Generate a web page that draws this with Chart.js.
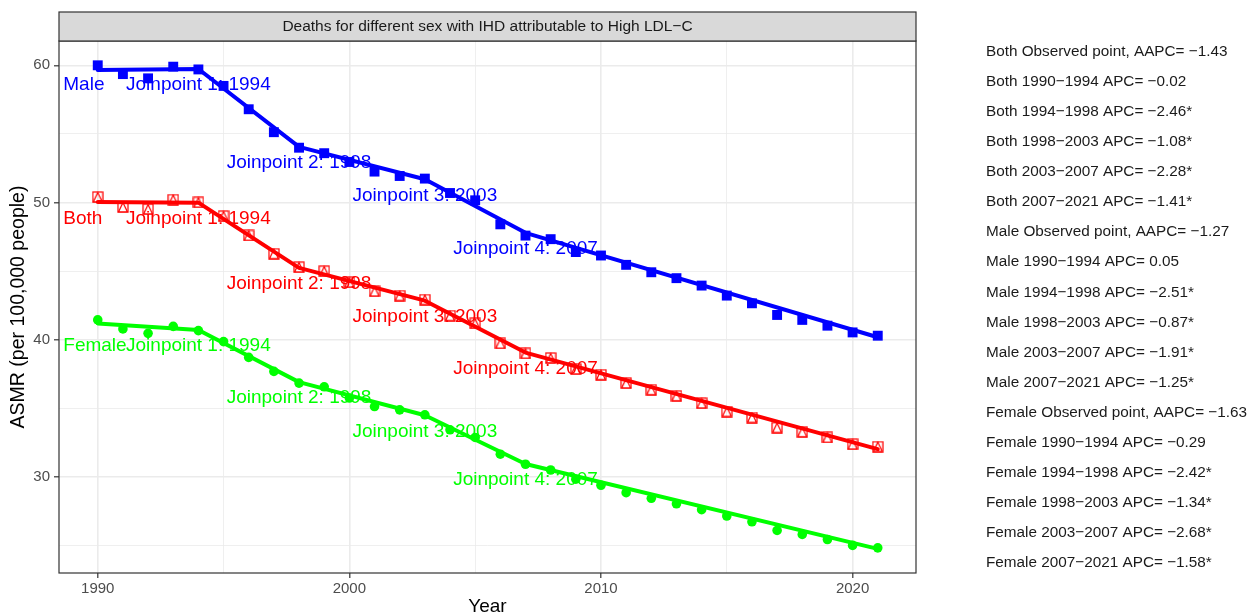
<!DOCTYPE html>
<html>
<head>
<meta charset="utf-8">
<title>Deaths for different sex with IHD attributable to High LDL-C</title>
<script src="https://cdn.jsdelivr.net/npm/chart.js@4.4.1/dist/chart.umd.min.js"></script>
<style>
  html, body { margin: 0; padding: 0; background: #ffffff; }
  #wrap { width: 1255px; height: 616px; }
</style>
</head>
<body>
<div id="wrap"><canvas id="chart" width="1255" height="616"></canvas></div>
<script>
// ---- data ----
const years = [1990, 1991, 1992, 1993, 1994, 1995, 1996, 1997, 1998, 1999,
               2000, 2001, 2002, 2003, 2004, 2005, 2006, 2007, 2008, 2009,
               2010, 2011, 2012, 2013, 2014, 2015, 2016, 2017, 2018, 2019,
               2020, 2021];

// observed age-standardised mortality rates (per 100,000)
const maleObserved   = [60.00, 59.36, 59.05, 59.90, 59.70, 58.50, 56.80, 55.13, 54.00, 53.60,
                        52.96, 52.26, 51.94, 51.75, 50.70, 50.17, 48.42, 47.60, 47.34, 46.40,
                        46.15, 45.47, 44.93, 44.50, 43.96, 43.23, 42.67, 41.82, 41.46, 41.04,
                        40.55, 40.31];
const bothObserved   = [50.41, 49.68, 49.53, 50.22, 50.02, 49.02, 47.61, 46.28, 45.30, 45.01,
                        44.20, 43.55, 43.23, 42.94, 41.77, 41.21, 39.75, 39.02, 38.69, 37.88,
                        37.47, 36.86, 36.37, 35.93, 35.40, 34.79, 34.35, 33.62, 33.31, 32.90,
                        32.41, 32.23];
const femaleObserved = [41.46, 40.80, 40.48, 40.99, 40.68, 39.88, 38.73, 37.71, 36.86, 36.59,
                        35.77, 35.15, 34.91, 34.55, 33.46, 32.90, 31.68, 30.95, 30.53, 29.86,
                        29.42, 28.88, 28.47, 28.07, 27.64, 27.18, 26.76, 26.13, 25.84, 25.47,
                        25.04, 24.86];

// joinpoint model: segment end points
const segmentYears = [1990, 1994, 1998, 2003, 2007, 2021];
const maleFitted   = [59.66, 59.73, 54.06, 51.70, 47.80, 40.20];
const bothFitted   = [50.04, 50.00, 45.25, 42.86, 39.08, 32.05];
const femaleFitted = [41.20, 40.73, 36.93, 34.52, 30.97, 24.79];

const joinpointYears = [1994, 1998, 2003, 2007];
const groupNames = ['Male', 'Both', 'Female'];

const xMajorTicks = [1990, 2000, 2010, 2020];
const xMinorTicks = [1995, 2005, 2015];
const yMajorTicks = [30, 40, 50, 60];
const yMinorTicks = [25, 35, 45, 55];

const stripTitle = 'Deaths for different sex with IHD attributable to High LDL\u2212C';
const xTitle = 'Year';
const yTitle = 'ASMR (per 100,000 people)';

const legendLines = [
  'Both Observed point, AAPC= \u22121.43',
  'Both 1990\u22121994 APC= \u22120.02',
  'Both 1994\u22121998 APC= \u22122.46*',
  'Both 1998\u22122003 APC= \u22121.08*',
  'Both 2003\u22122007 APC= \u22122.28*',
  'Both 2007\u22122021 APC= \u22121.41*',
  'Male Observed point, AAPC= \u22121.27',
  'Male 1990\u22121994 APC= 0.05',
  'Male 1994\u22121998 APC= \u22122.51*',
  'Male 1998\u22122003 APC= \u22120.87*',
  'Male 2003\u22122007 APC= \u22121.91*',
  'Male 2007\u22122021 APC= \u22121.25*',
  'Female Observed point, AAPC= \u22121.63',
  'Female 1990\u22121994 APC= \u22120.29',
  'Female 1994\u22121998 APC= \u22122.42*',
  'Female 1998\u22122003 APC= \u22121.34*',
  'Female 2003\u22122007 APC= \u22122.68*',
  'Female 2007\u22122021 APC= \u22121.58*'
];

// ---- styling ----
const FONT = '"Liberation Sans", Arial, Helvetica, sans-serif';
const BLUE = '#0000FF', RED = '#FF0000', GREEN = '#00FF00';
const groupColors = { Male: BLUE, Both: RED, Female: GREEN };
const groupFitted = { Male: maleFitted, Both: bothFitted, Female: femaleFitted };

Chart.defaults.font.family = FONT;

const pts = (xs, ys) => xs.map((x, i) => ({ x: x, y: ys[i] }));

// open square with an inscribed triangle
function squareTriangle(color, size) {
  const c = document.createElement('canvas');
  c.width = size; c.height = size;
  const g = c.getContext('2d');
  g.strokeStyle = color;
  g.lineWidth = 1.2;
  const a = 1, b = size - 1;
  g.strokeRect(a, a, b - a, b - a);
  g.beginPath();
  g.moveTo(size / 2, a + 0.5);
  g.lineTo(b - 0.5, b);
  g.lineTo(a + 0.5, b);
  g.closePath();
  g.stroke();
  return c;
}

const fittedLine = (data, color) => ({
  type: 'line', data: data, borderColor: color, borderWidth: 4,
  pointRadius: 0, fill: false, tension: 0, borderCapStyle: 'round', borderJoinStyle: 'round'
});

const observed = (data, color, style, r) => ({
  type: 'scatter', data: data, showLine: false,
  pointStyle: style, pointRadius: r, pointHoverRadius: r,
  backgroundColor: color, borderColor: color, borderWidth: 0
});

// ---- plugins ----
const panelDecor = {
  id: 'panelDecor',
  afterDatasetsDraw(chart) {
    const { ctx, chartArea: a, scales: { x, y } } = chart;
    ctx.save();
    // joinpoint and group annotations
    ctx.font = '19px ' + FONT;
    ctx.textBaseline = 'middle';
    const offset = 1.17;
    groupNames.forEach(name => {
      const fit = groupFitted[name];
      ctx.fillStyle = groupColors[name];
      joinpointYears.forEach((yr, i) => {
        const v = fit[segmentYears.indexOf(yr)] - offset;
        ctx.textAlign = 'center';
        ctx.fillText('Joinpoint ' + (i + 1) + ': ' + yr, x.getPixelForValue(yr), y.getPixelForValue(v));
        if (i === 0) {
          ctx.textAlign = 'left';
          ctx.fillText(name, x.getPixelForValue(1988.63), y.getPixelForValue(v));
        }
      });
    });
    // panel border
    ctx.strokeStyle = '#333333';
    ctx.lineWidth = 1.2;
    ctx.strokeRect(a.left, a.top, a.right - a.left, a.bottom - a.top);
    ctx.restore();
  },
  afterDraw(chart) {
    const { ctx, chartArea: a } = chart;
    ctx.save();
    // facet strip
    const top = 12;
    ctx.fillStyle = '#D9D9D9';
    ctx.fillRect(a.left, top, a.right - a.left, a.top - top);
    ctx.strokeStyle = '#333333';
    ctx.lineWidth = 1.2;
    ctx.strokeRect(a.left, top, a.right - a.left, a.top - top);
    ctx.fillStyle = '#1A1A1A';
    ctx.font = '15.5px ' + FONT;
    ctx.textAlign = 'center';
    ctx.textBaseline = 'middle';
    ctx.fillText(stripTitle, (a.left + a.right) / 2, (top + a.top) / 2 + 0.5);
    // legend text
    ctx.textAlign = 'left';
    ctx.font = '15.3px ' + FONT;
    legendLines.forEach((t, i) => ctx.fillText(t, 986, 51.5 + i * 30.1));
    ctx.restore();
  }
};

const isMajorX = v => xMajorTicks.includes(v);
const isMajorY = v => yMajorTicks.includes(v);

new Chart(document.getElementById('chart'), {
  data: {
    datasets: [
      fittedLine(pts(segmentYears, maleFitted), BLUE),
      fittedLine(pts(segmentYears, bothFitted), RED),
      fittedLine(pts(segmentYears, femaleFitted), GREEN),
      observed(pts(years, maleObserved), BLUE, 'rect', 7),
      observed(pts(years, bothObserved), RED, squareTriangle(RED, 12), 6),
      observed(pts(years, femaleObserved), GREEN, 'circle', 4.8)
    ]
  },
  options: {
    responsive: false,
    animation: false,
    events: [],
    layout: { padding: { top: 41, right: 339, bottom: 0, left: 0 } },
    plugins: { legend: { display: false }, tooltip: { enabled: false }, title: { display: false } },
    scales: {
      x: {
        type: 'linear', min: 1988.46, max: 2022.52,
        afterBuildTicks: s => { s.ticks = xMajorTicks.concat(xMinorTicks).sort((a, b) => a - b).map(v => ({ value: v })); },
        afterFit: s => { s.height = 43; },
        ticks: {
          autoSkip: false, maxRotation: 0, padding: 2,
          color: '#4D4D4D', font: { size: 15 },
          callback: v => isMajorX(v) ? String(v) : ''
        },
        grid: {
          color: '#EBEBEB',
          lineWidth: c => (c.tick && isMajorX(c.tick.value)) ? 1.6 : 0.8,
          tickColor: c => (c.tick && isMajorX(c.tick.value)) ? '#333333' : 'rgba(0,0,0,0)',
          tickLength: 5, tickWidth: 1.2
        },
        border: { display: false },
        title: { display: true, text: xTitle, color: '#000000', font: { size: 19, lineHeight: 1 }, padding: { top: 0, bottom: 0 } }
      },
      y: {
        type: 'linear', min: 23.03, max: 61.77,
        afterBuildTicks: s => { s.ticks = yMajorTicks.concat(yMinorTicks).sort((a, b) => a - b).map(v => ({ value: v })); },
        afterFit: s => { s.width = 59; },
        ticks: {
          autoSkip: false, padding: 4,
          color: '#4D4D4D', font: { size: 15 },
          callback: v => isMajorY(v) ? String(v) : ''
        },
        grid: {
          color: '#EBEBEB',
          lineWidth: c => (c.tick && isMajorY(c.tick.value)) ? 1.6 : 0.8,
          tickColor: c => (c.tick && isMajorY(c.tick.value)) ? '#333333' : 'rgba(0,0,0,0)',
          tickLength: 5, tickWidth: 1.2
        },
        border: { display: false },
        title: { display: true, text: yTitle, color: '#000000', font: { size: 19.5, lineHeight: 1 }, padding: { top: 9, bottom: 0 } }
      }
    }
  },
  plugins: [panelDecor]
});
</script>
</body>
</html>
